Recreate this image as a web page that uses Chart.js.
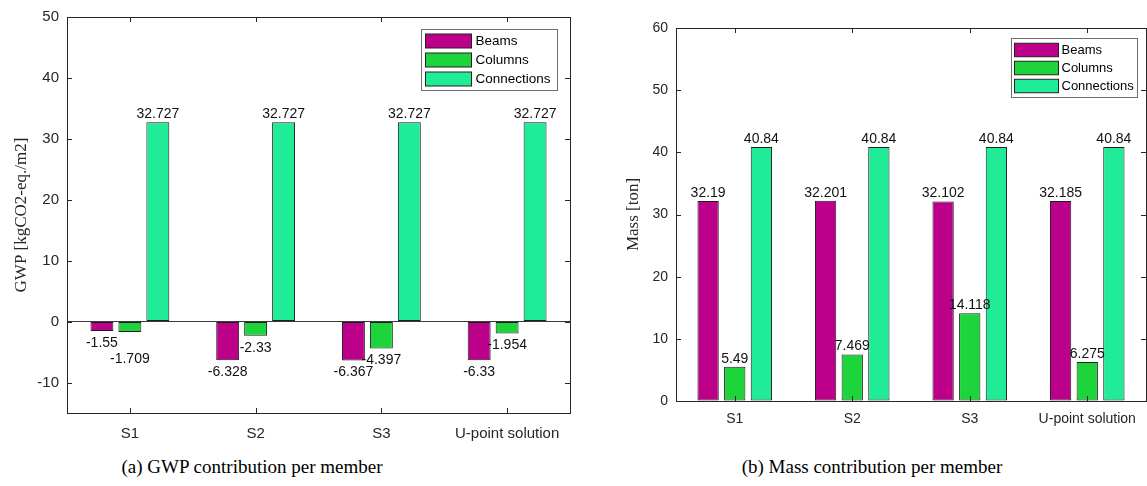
<!DOCTYPE html>
<html>
<head>
<meta charset="utf-8">
<script src="https://cdn.jsdelivr.net/npm/chart.js@4.4.1/dist/chart.umd.min.js"></script>
<style>
  html, body { margin: 0; padding: 0; background: #fff; }
  body { width: 1147px; height: 486px; position: relative; overflow: hidden; }
  canvas { position: absolute; top: 0; }
  #gwpChart { left: 0; }
  #massChart { left: 590px; }
  .caption { position: absolute; top: 456px; width: 400px; text-align: center; line-height: 22px;
             font-family: "Liberation Serif", "Times New Roman", serif; font-size: 19px; color: #000; }
</style>
</head>
<body>
<canvas id="gwpChart" width="580" height="445"></canvas>
<canvas id="massChart" width="557" height="445"></canvas>
<div class="caption" style="left:52px">(a) GWP contribution per member</div>
<div class="caption" style="left:672px">(b) Mass contribution per member</div>
<script>
// données
const categories = ['S1', 'S2', 'S3', 'U-point solution'];
const seriesNames = ['Beams', 'Columns', 'Connections'];

const gwpBeams = [-1.55, -6.328, -6.367, -6.33];
const gwpColumns = [-1.709, -2.33, -4.397, -1.954];
const gwpConnections = [32.727, 32.727, 32.727, 32.727];

const massBeams = [32.19, 32.201, 32.102, 32.185];
const massColumns = [5.49, 7.469, 14.118, 6.275];
const massConnections = [40.84, 40.84, 40.84, 40.84];

const gwpTicks = [-10, 0, 10, 20, 30, 40, 50];
const massTicks = [0, 10, 20, 30, 40, 50, 60];

const seriesColors = ['#bd008a', '#1dd43b', '#20ec98'];
const sansFont = '"Liberation Sans", Arial, sans-serif';
const serifFont = '"Liberation Serif", "Times New Roman", serif';

// cadre MATLAB avec graduations vers l'intérieur
const axesBox = {
    id: 'axesBox',
    afterDraw(chart) {
        const { ctx, chartArea: a, scales } = chart;
        ctx.save();
        ctx.strokeStyle = '#262626';
        ctx.lineWidth = 1;
        ctx.strokeRect(Math.round(a.left) + 0.5, Math.round(a.top) + 0.5,
            Math.round(a.right - a.left), Math.round(a.bottom - a.top));
        ctx.beginPath();
        scales.y.ticks.forEach(t => {
            const y = Math.round(scales.y.getPixelForValue(t.value)) + 0.5;
            ctx.moveTo(a.left, y); ctx.lineTo(a.left + 5, y);
            ctx.moveTo(a.right, y); ctx.lineTo(a.right - 5, y);
        });
        categories.forEach((c, i) => {
            const x = Math.round(scales.x.getPixelForValue(i)) + 0.5;
            ctx.moveTo(x, a.bottom); ctx.lineTo(x, a.bottom - 5);
            ctx.moveTo(x, a.top); ctx.lineTo(x, a.top + 5);
        });
        ctx.stroke();
        ctx.restore();
    }
};

// étiquettes de valeur au bout des barres
const valueLabels = {
    id: 'valueLabels',
    afterDatasetsDraw(chart, args, opts) {
        const { ctx } = chart;
        ctx.save();
        ctx.font = opts.font;
        ctx.fillStyle = '#111';
        ctx.textAlign = 'center';
        ctx.textBaseline = 'middle';
        chart.data.datasets.forEach((ds, di) => {
            const meta = chart.getDatasetMeta(di);
            meta.data.forEach((bar, i) => {
                const v = ds.data[i];
                const nudge = (opts.nudges && opts.nudges[di + ',' + i]) || 0;
                const y = v >= 0 ? bar.y - 8 : bar.y + 12 + nudge;
                ctx.fillText(String(v), bar.x, y);
            });
        });
        ctx.restore();
    }
};

// légende encadrée dans le coin haut droit
const boxLegend = {
    id: 'boxLegend',
    afterDraw(chart, args, o) {
        const { ctx, chartArea } = chart;
        const x0 = Math.round(chartArea.right - o.right - o.width) + 0.5;
        const y0 = Math.round(chartArea.top + o.top) + 0.5;
        ctx.save();
        ctx.fillStyle = '#fff';
        ctx.fillRect(x0, y0, o.width, o.height);
        ctx.strokeStyle = '#6e6e6e';
        ctx.lineWidth = 1;
        ctx.strokeRect(x0, y0, o.width, o.height);
        ctx.font = o.font;
        ctx.textBaseline = 'middle';
        chart.data.datasets.forEach((ds, i) => {
            const cy = Math.round(y0 + o.first + i * o.step);
            ctx.fillStyle = ds.backgroundColor;
            ctx.fillRect(x0 + o.swatchX, cy - o.swatchH / 2, o.swatchW, o.swatchH);
            ctx.strokeStyle = '#222';
            ctx.strokeRect(x0 + o.swatchX, cy - o.swatchH / 2, o.swatchW, o.swatchH);
            ctx.fillStyle = '#000';
            ctx.fillText(ds.label, x0 + o.textX, cy + 0.5);
        });
        ctx.restore();
    }
};

function makeChart(id, series, cfg) {
    const datasets = series.map((values, i) => ({
        label: seriesNames[i],
        data: values,
        backgroundColor: seriesColors[i],
        borderColor: '#1e1e1e',
        borderWidth: 1,
        borderSkipped: false,
        categoryPercentage: cfg.catPct,
        barPercentage: cfg.barPct
    }));

    return new Chart(document.getElementById(id).getContext('2d'), {
        type: 'bar',
        data: { labels: categories, datasets: datasets },
        options: {
            responsive: false,
            animation: false,
            layout: { padding: cfg.padding },
            plugins: {
                legend: { display: false },
                tooltip: { enabled: false },
                valueLabels: { font: '14px ' + sansFont, nudges: cfg.nudges },
                boxLegend: cfg.legend
            },
            scales: {
                x: {
                    grid: { display: false, drawTicks: false },
                    border: { display: false },
                    ticks: { color: '#262626', font: { family: sansFont, size: cfg.tickSize }, padding: cfg.xPad, maxRotation: 0, autoSkip: false },
                    afterFit: s => { s.height = cfg.xHeight; }
                },
                y: {
                    min: cfg.min,
                    max: cfg.max,
                    afterBuildTicks: s => { s.ticks = cfg.ticks.map(v => ({ value: v })); },
                    grid: {
                        drawTicks: false,
                        color: c => (c.tick && c.tick.value === 0 ? '#3a3a3a' : 'rgba(0,0,0,0)')
                    },
                    border: { display: false },
                    ticks: { color: '#262626', font: { family: sansFont, size: cfg.tickSize }, padding: 8 },
                    title: {
                        display: true,
                        text: cfg.yTitle,
                        color: '#262626',
                        font: { family: serifFont, size: 17 },
                        padding: { top: 4, bottom: 4 }
                    },
                    afterFit: s => { s.width = cfg.yWidth; }
                }
            }
        },
        plugins: [axesBox, valueLabels, boxLegend]
    });
}

makeChart('gwpChart', [gwpBeams, gwpColumns, gwpConnections], {
    min: -15, max: 50, ticks: gwpTicks,
    yTitle: 'GWP [kgCO2-eq./m2]',
    catPct: 0.667, barPct: 0.82,
    tickSize: 15, xPad: 12, xHeight: 32, yWidth: 60,
    padding: { left: 7, right: 10, top: 17, bottom: 0 },
    nudges: { '1,0': 15 },
    legend: { right: 13, top: 12, width: 136, height: 61, font: '13.5px ' + sansFont,
              swatchX: 4, swatchW: 46, swatchH: 14, textX: 54, first: 11.3, step: 19.2 }
});

makeChart('massChart', [massBeams, massColumns, massConnections], {
    min: 0, max: 60, ticks: massTicks,
    yTitle: 'Mass [ton]',
    catPct: 0.68, barPct: 0.8,
    tickSize: 14, xPad: 10, xHeight: 44, yWidth: 57,
    padding: { left: 29, right: 1, top: 28, bottom: 0 },
    legend: { right: 9, top: 10, width: 126, height: 59, font: '13px ' + sansFont,
              swatchX: 3, swatchW: 44, swatchH: 13.5, textX: 50, first: 11, step: 18 }
});
</script>
</body>
</html>
